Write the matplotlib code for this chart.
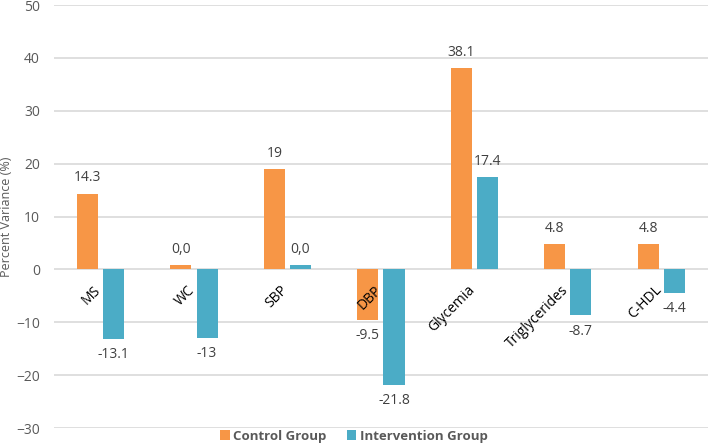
import matplotlib
matplotlib.use("Agg")
import matplotlib.pyplot as plt
import numpy as np

categories = ["MS", "WC", "SBP", "DBP", "Glycemia", "Triglycerides", "C-HDL"]
control = [14.3, 0.8, 19.0, -9.5, 38.1, 4.8, 4.8]
intervention = [-13.1, -13.0, 0.8, -21.8, 17.4, -8.7, -4.4]
control_labels = ["14.3", "0,0", "19", "-9.5", "38.1", "4.8", "4.8"]
intervention_labels = ["-13.1", "-13", "0,0", "-21.8", "17.4", "-8.7", "-4.4"]
yticks = [-30, -20, -10, 0, 10, 20, 30, 40, 50]

plt.rcParams['font.family'] = ['Open Sans', 'DejaVu Sans']

fig = plt.figure(figsize=(7.08, 4.44), dpi=100)
ax = fig.add_axes([0.076, 0.036, 0.924, 0.9525])

orange = "#F79646"
blue = "#4BACC6"
x = np.arange(len(categories))
w = 0.225
off = 0.14
b1 = ax.bar(x - off, control, w, color=orange, label="Control Group", zorder=3)
b2 = ax.bar(x + off, intervention, w, color=blue, label="Intervention Group", zorder=3)

for bars, labels in ((b1, control_labels), (b2, intervention_labels)):
    for rect, lab in zip(bars, labels):
        h = rect.get_height()
        cx = rect.get_x() + rect.get_width() / 2
        if h >= 0:
            ax.annotate(lab, (cx, h), xytext=(0, 6), textcoords="offset points",
                        ha="center", va="bottom", fontsize=10, color="#404040")
        else:
            ax.annotate(lab, (cx, h), xytext=(0, -6), textcoords="offset points",
                        ha="center", va="top", fontsize=10, color="#404040")

for xi, cat in zip(x, categories):
    ax.annotate(cat, (xi, 0), xytext=(2.5, -9.5), textcoords="offset points",
                rotation=45, ha="right", va="top", fontsize=10, color="black")

ax.set_xlim(-0.5, len(categories) - 0.5)
ax.set_ylim(-30, 50)
ax.set_yticks(yticks)
ax.set_xticks([])
ax.tick_params(axis="y", length=0, labelsize=10, labelcolor="#595959", pad=10)
ax.grid(axis="y", color="#D9D9D9", linewidth=1.2, zorder=0)
for s in ax.spines.values():
    s.set_visible(False)
ax.set_ylabel("Percent Variance (%)", fontsize=9, color="#595959")
ax.yaxis.set_label_coords(-0.062, 0.5)

fig.legend(handles=[b1, b2], loc="center", bbox_to_anchor=(0.5, 0.018), ncol=2,
           frameon=False, handlelength=0.7, handleheight=0.7,
           handletextpad=0.3, columnspacing=1.5,
           prop={"weight": "bold", "size": 9.5})
for t in fig.legends[0].get_texts():
    t.set_color("#595959")

fig.savefig("out.png", dpi=100)
